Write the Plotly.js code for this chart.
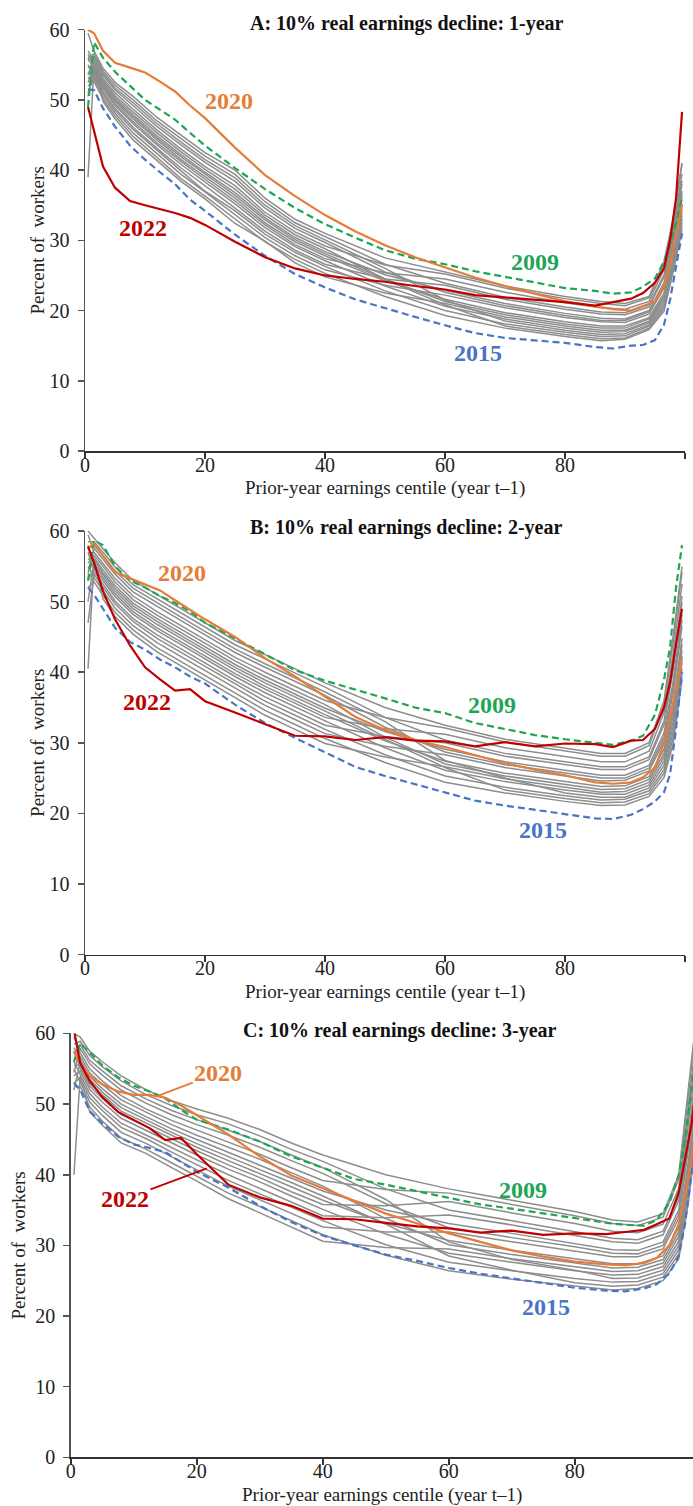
<!DOCTYPE html>
<html>
<head>
<meta charset="utf-8">
<script src="https://cdn.plot.ly/plotly-3.0.1.min.js"></script>
<style>
html,body{margin:0;padding:0;background:#fff;}
#chart{width:693px;height:1506px;}
</style>
</head>
<body>
<div id="chart"></div>
<script>
// ---------- DATA ----------
// centile positions for highlighted years and for the other (grey) years
const XH = [0.5,1.5,3,5,7.5,10,12.5,15,17.5,20,25,30,35,40,45,50,55,60,65,70,75,80,85,88,91,93,95,96.5,97.5,98.5,99.5];
const XG = [0.5,1.5,3,5,8,12,16,20,25,30,35,40,50,60,70,80,86,90,94,96.5,98,99.5];
const xTickVals = [0,20,40,60,80,100];
const xTickText = ['0','20','40','60','80',''];
const yTickVals = [0,10,20,30,40,50,60];

const panelTitles = ['A: 10% real earnings decline: 1-year','B: 10% real earnings decline: 2-year','C: 10% real earnings decline: 3-year'];
const xTitle = 'Prior-year earnings centile (year t–1)';
const yTitle = 'Percent of  workers';

// Panel A (1-year)
const A_2009 = [49,58.2,56,54,52,50,48.6,47.2,45.3,43.5,40.3,37.3,34.6,32.3,30.4,28.6,27.4,26.6,25.6,24.8,24.1,23.2,22.8,22.4,22.6,23.4,24.6,27,29.5,32.5,36];
const A_2015 = [51.5,51.4,48.8,46.2,43.5,41.5,39.7,38,35.8,34.2,30.8,27.8,25.2,23.3,21.6,20.3,19.1,17.9,16.8,16.1,15.8,15.4,14.8,14.6,15,15.1,15.8,18,21.5,26,31];
const A_2020 = [60,59.5,57,55.3,54.6,53.9,52.6,51.2,49.2,47.4,43.2,39.3,36.3,33.6,31.3,29.3,27.6,26.1,24.7,23.5,22.4,21.3,20.6,20.2,20,20.7,21.3,23.5,26.5,30.5,35.2];
const A_2022 = [49,45.5,40.5,37.5,35.6,35,34.5,33.9,33.2,32.2,29.8,27.6,26,25,24.5,24.1,23.5,23,22.2,21.9,21.5,21.2,20.7,21.2,21.7,22.5,24,26,30,36,48.3];
const A_other = [
  [39,55,49.8,47.3,44.3,41.3,38.4,35.9,32.4,29.9,26.8,24.8,22.5,21,19.1,17.8,17.2,17.2,18.5,21.8,27.4,34],
  [52,52.6,50.1,47.7,44.8,41.8,38.8,36.3,33,29.8,27.3,25.3,22,19.3,17.5,16.3,15.7,15.9,17.3,19.9,25.4,31.5],
  [54,53,50.5,48.1,45.3,42.3,39.4,36.9,33.6,30.4,27.8,25.8,23.6,22.2,20.4,19,18.4,18.3,19.5,23.2,29,36],
  [51,53.3,50.9,48.5,45.8,42.8,39.9,37,34.2,30.9,28.3,26.3,22.8,20,18.1,16.9,16.3,16.4,17.8,20.6,26.2,32.5],
  [55,53.6,51.1,48.8,46.1,43.1,40.3,37.8,34.6,31.3,28.6,26.6,24.5,23.6,21.6,20.2,19.5,19.4,20.5,24.8,30.6,38],
  [53,54,51.5,49.2,46.6,43.6,40.8,38.3,35.2,31.8,29.1,27.1,23.5,20.6,18.8,17.5,16.9,17,18.3,21.4,27,33.5],
  [56,54.3,51.8,49.5,46.9,43.9,41.2,38.7,35.6,32.2,29.4,27.4,25.4,24.5,22.6,21.1,20.4,20.2,21.3,25.9,31.8,39.5],
  [52.5,54.5,52,49.8,47.3,44.3,41.5,39,36,32.5,29.8,27.8,24.2,21.6,19.7,18.4,17.8,17.8,19,22.5,28.2,35],
  [50.5,54.8,52.3,50,47.6,44.6,41.9,39.4,36.4,32.9,30.1,28.1,24.5,20.8,17.8,16.6,16,16.1,17.5,20.3,25.8,32],
  [56.5,55,52.5,50.3,47.9,44.9,42.2,39.7,36.8,33.2,30.4,28.4,25.1,22.9,21,19.6,18.9,18.8,20,24,29.8,37],
  [54.5,55.3,52.8,50.6,48.3,45.3,42.6,40.1,37.3,33.6,30.8,28.8,24.5,21.3,19.4,18.1,17.5,17.5,18.8,22.1,27.8,34.5],
  [57,55.6,53.1,51,48.7,45.7,43,40.5,37.8,34,31.2,29.2,26.5,25.2,23.2,21.7,21,20.7,21.8,26.6,32.6,41],
  [53.5,56,53.5,51.4,49.2,46.2,43.6,41.1,38.4,34.6,31.7,29.7,25.5,22.6,20.7,19.3,18.6,18.6,19.8,23.6,29.4,36.5],
  [55.5,56.3,53.8,51.7,49.6,46.6,44,41.5,38.9,35,32.1,30.1,26,21.5,18.5,17.2,16.6,16.7,18,21,26.6,33],
  [56,56.6,54.1,52.1,50,47,44.5,42,39.4,35.5,32.5,30.5,26.6,23.9,21.9,20.5,19.8,19.7,20.8,25.1,31,38.5],
  [59.5,57,54.5,52.5,50.5,47.5,45,42.5,40,36,33,31,27.5,25.5,23.5,22,21.3,21,22,27,33,41]
];

// Panel B (2-year)
const B_2009 = [53,58.7,58,55,53,52,50.8,49.8,48.6,47,44.8,42.5,40.3,38.8,37.6,36.3,35,34.2,32.8,32,31.1,30.5,30,29.7,30.3,31,34,39,43.5,52,58];
const B_2015 = [52,51,49,46.3,44.3,43.2,41.8,40.7,39.4,38.4,35.4,32.8,30.7,28.6,26.6,25.3,24.1,22.9,21.8,21.1,20.5,19.8,19.3,19.2,19.8,20.6,21.7,23,25.5,32,40];
const B_2020 = [57.5,58.3,56.5,54.2,53.3,52.4,51.6,50.2,48.8,47.5,45,42,39.4,36.5,33.7,31.8,30.4,29.4,28.2,27.1,26.2,25.4,24.4,24.2,24.4,25.1,26.5,30,33.5,38,42];
const B_2022 = [57.8,55.5,51.5,47.5,43.8,40.7,39,37.4,37.6,35.9,34.3,32.6,31,30.9,30.4,30.8,30.3,30.2,29.5,30.1,29.5,29.9,29.8,29.4,30.3,30.4,32,35,38.5,44,49];
const B_other = [
  [40.5,56,50.4,47.9,45.4,42.9,40.9,38.9,36.4,33.9,31.9,29.9,28,26.6,24.9,23.7,23,23.1,24.4,28,33.8,43.1],
  [52,52.8,50.9,48.5,46,43.5,41.5,39.5,37,34.6,32.6,30.6,27.2,24.4,22.9,21.7,21.1,21.2,22.4,25.1,29.8,38.9],
  [55,53.4,51.5,49.1,46.6,44.2,42.2,40.2,37.7,35.3,33.3,31.3,29.5,28.3,26.5,25.3,24.6,24.7,26,30.3,37,46.5],
  [47,53.9,52,49.7,47.2,44.8,42.8,40.8,38.3,35.9,33.9,31.9,28.3,25.3,23.7,22.5,21.9,22,23.2,26.2,31.4,40.5],
  [57,54.3,52.5,50.1,47.6,45.3,43.3,41.3,38.8,36.5,34.5,32.5,30.9,30,28.1,26.9,26.2,26.2,27.6,32.6,40.2,49.9],
  [53,54.8,53,50.7,48.2,45.9,43.9,41.9,39.4,37.1,35.1,33.1,29.3,26.1,24.5,23.3,22.7,22.7,24,27.4,33,42.3],
  [58,55.2,53.4,51.1,48.6,46.3,44.3,42.3,39.8,37.6,35.6,33.6,32,31.2,29.3,28.1,27.3,27.3,28.8,34.3,42.6,52.5],
  [54.5,55.5,53.8,51.5,49,46.8,44.8,42.8,40.3,38,36,34,30.3,27.4,25.7,24.5,23.8,23.9,25.2,29.1,35.4,44.8],
  [50,55.9,54.1,51.9,49.4,47.2,45.2,43.2,40.7,38.5,36.5,34.5,30.5,26.5,23.3,22.1,21.5,21.6,22.8,25.7,30.6,39.7],
  [56,56.2,54.5,52.3,49.8,47.6,45.6,43.6,41.1,38.9,36.9,34.9,31.6,29.1,27.3,26.1,25.4,25.4,26.8,31.4,38.6,48.2],
  [55.5,56.6,55,52.8,50.3,48.1,46.1,44.1,41.6,39.4,37.4,35.4,30.8,27,25.3,24.1,23.4,23.5,24.8,28.5,34.6,44],
  [59.5,57,55.4,53.3,50.8,48.6,46.6,44.6,42.1,40,38,36,33.6,32.1,30.1,28.9,28.1,28.1,29.6,35.4,44.2,54.2],
  [54,57.6,56,53.9,51.4,49.3,47.3,45.3,42.8,40.7,38.7,36.7,32.2,28.7,26.9,25.7,25,25,26.4,30.8,37.8,47.4],
  [57.5,58,56.5,54.4,51.9,49.8,47.8,45.8,43.3,41.2,39.2,37.2,33,27.5,25,22.9,22.3,22.3,23.6,26.8,32.2,41.4],
  [58.5,58.5,57,54.9,52.4,50.4,48.4,46.4,43.9,41.9,39.9,37.9,33.6,30.4,28.5,27.3,26.6,26.6,28,33.1,41,50.8],
  [60,59,57.5,55.5,53,51,49,47,44.5,42.5,40.5,38.5,35,32.5,30.5,29.3,28.5,28.5,30,36,45,55]
];

// Panel C (3-year)
const C_2009 = [56,58.6,57.3,55.5,53.8,52.6,51.8,50.8,49.2,47.8,46.4,44.7,42.6,41,39.4,38.6,37.7,36.7,35.8,35.2,34.5,33.8,33.2,32.9,32.8,33.6,36,40,45,52,60];
const C_2015 = [53,52,49,47.3,45.4,44.3,43.8,43.2,41.8,40.4,38.2,35.6,33.3,31.4,30,28.7,27.8,26.8,26,25.3,24.6,24,23.6,23.5,23.9,24.5,26,28.5,33,40,48];
const C_2020 = [57.5,55.8,54,52.8,51.8,51.3,51.3,50.9,49.8,48.4,45.7,42.6,39.9,38.1,36.3,34.5,33.1,31.7,30.5,29.3,28.4,27.7,27.3,27.2,27.5,28.2,30,33,37,42,48];
const C_2022 = [60.5,55.8,53.3,51,48.9,47.8,46.6,44.9,45.2,42.9,38.6,36.8,35.6,33.8,33.7,33.2,32.7,32.4,31.8,32.1,31.5,31.7,31.6,31.9,32.2,33,33.8,37.5,42,47,54];
const C_other = [
  [40,54,48.9,47,44.5,43,41,39.1,36.6,34.6,32.6,30.6,29.7,29.5,28.1,27,26.3,26.4,27.5,31.3,40.1,51.4],
  [52.5,52.5,49.6,47.6,45.2,43.6,41.7,39.8,37.4,35.5,33.5,31.5,28.6,26.4,25.2,24.2,23.7,23.9,25,28.1,35.9,46.9],
  [55,53.1,50.3,48.4,46,44.4,42.5,40.7,38.4,36.5,34.5,32.6,31.9,31.9,30.5,29.2,28.4,28.4,29.5,33.8,43.5,55],
  [53,53.7,50.9,49.1,46.7,45.1,43.2,41.4,39.2,37.3,35.4,33.5,30.1,27.6,26.4,25.3,24.8,24.9,26,29.4,37.6,48.7],
  [56,54.1,51.5,49.6,47.3,45.6,43.8,42.1,40,38.1,36.1,34.2,33.9,34.3,32.9,31.4,30.5,30.3,31.5,36.3,46.9,58.6],
  [54,54.7,52.1,50.3,48,46.3,44.5,42.8,40.8,39,37,35.1,31.6,28.9,27.6,26.4,25.8,25.9,27,30.6,39.3,50.5],
  [57.5,55.1,52.6,50.8,48.5,46.8,45,43.4,41.4,39.6,37.6,35.8,35.6,36.2,34.6,33.1,32,31.8,33,38.1,49.5,61.3],
  [55.5,55.5,53,51.3,49,47.3,45.5,43.9,42,40.2,38.3,36.4,33.1,30.7,29.3,28.1,27.4,27.4,28.5,32.5,41.8,53.2],
  [52,55.9,53.5,51.7,49.5,47.7,46,44.4,42.6,40.8,38.9,37,33,28.5,26.5,24.7,24.2,24.4,25.5,28.8,36.7,47.8],
  [58,56.3,53.9,52.2,50,48.2,46.5,45,43.2,41.4,39.5,37.7,35,33.1,31.7,30.3,29.4,29.3,30.5,35,45.2,56.8],
  [56.5,56.8,54.4,52.8,50.6,48.8,47.1,45.6,43.9,42.2,40.3,38.4,33.8,30.1,28.7,27.5,26.8,26.9,28,31.9,41,52.3],
  [59.5,57.3,55,53.3,51.2,49.3,47.7,46.3,44.6,42.9,41,39.2,37.9,37.4,35.8,34.2,33.1,32.8,34,39.4,51.2,63.1],
  [54.5,57.9,55.7,54.1,52,50.1,48.5,47.1,45.6,43.9,42,40.2,35.9,32.5,31.1,29.8,28.9,28.8,30,34.4,44.4,55.9],
  [57,58.4,56.2,54.7,52.6,50.7,49.1,47.8,46.3,44.7,42.8,41,36.5,30.5,28,26.5,25.3,25.4,26.5,30,38.4,49.6],
  [58.5,58.9,56.9,55.3,53.3,51.3,49.8,48.5,47.2,45.5,43.6,41.9,38,35,33.5,32,31,30.8,32,36.9,47.8,59.5],
  [60,59.5,57.5,56,54,52,50.5,49.3,48,46.4,44.5,42.8,40,38,36.4,34.8,33.6,33.3,34.5,40,52,64]
];

// ---------- STYLE ----------
const FONT = 'Liberation Serif, Times New Roman, serif';
const GRAY = '#8d8d8d';
const COL = {'2009':'#1ea655','2015':'#4a74c4','2020':'#e57c37','2022':'#c00000'};
const DASH = '7px,4px';

const traces = [];
function addPanel(xa, ya, other, s2009, s2015, s2020, s2022) {
  other.forEach(function(v){
    traces.push({x: XG, y: v, xaxis: xa, yaxis: ya, type: 'scatter', mode: 'lines',
      line: {color: GRAY, width: 1.5}, hoverinfo: 'skip'});
  });
  traces.push({x: XH, y: s2015, xaxis: xa, yaxis: ya, type: 'scatter', mode: 'lines', name: '2015',
    line: {color: COL['2015'], width: 2.2, dash: DASH}});
  traces.push({x: XH, y: s2009, xaxis: xa, yaxis: ya, type: 'scatter', mode: 'lines', name: '2009',
    line: {color: COL['2009'], width: 2.2, dash: DASH}});
  traces.push({x: XH, y: s2020, xaxis: xa, yaxis: ya, type: 'scatter', mode: 'lines', name: '2020',
    line: {color: COL['2020'], width: 2.2}});
  traces.push({x: XH, y: s2022, xaxis: xa, yaxis: ya, type: 'scatter', mode: 'lines', name: '2022',
    line: {color: COL['2022'], width: 2.2}});
}
addPanel('x', 'y', A_other, A_2009, A_2015, A_2020, A_2022);
addPanel('x2', 'y2', B_other, B_2009, B_2015, B_2020, B_2022);
addPanel('x3', 'y3', C_other, C_2009, C_2015, C_2020, C_2022);

function xAxis(domain, range, anchor) {
  return {domain: domain, range: range, anchor: anchor, tickvals: xTickVals, ticktext: xTickText,
    ticks: 'outside', ticklen: 6, tickwidth: 1.5, tickcolor: '#333', showline: true, linecolor: '#333',
    linewidth: 1.5, showgrid: false, zeroline: false, fixedrange: true, ticklabelstandoff: -11,
    tickfont: {family: FONT, size: 20, color: '#222'}};
}
function yAxis(domain, anchor, standoff) {
  return {domain: domain, range: [0, 60], anchor: anchor, tickvals: yTickVals,
    ticks: 'outside', ticklen: 6, tickwidth: 1.5, tickcolor: '#555', showline: true, linecolor: '#555',
    linewidth: 1.5, showgrid: false, zeroline: false, fixedrange: true, ticklabelstandoff: 4,
    tickfont: {family: FONT, size: 20, color: '#222'},
    title: {text: yTitle, font: {family: FONT, size: 19, color: '#222'}, standoff: standoff}};
}

function lab(text, xref, yref, x, y, color) {
  return {text: '<b>' + text + '</b>', xref: xref, yref: yref, x: x, y: y, showarrow: false,
    font: {family: FONT, size: 24, color: color}, xanchor: 'center', yanchor: 'middle'};
}
function titleAnn(text, x, y) {
  return {text: '<b>' + text + '</b>', xref: 'paper', yref: 'paper', x: x, y: y, showarrow: false,
    font: {family: FONT, size: 20, color: '#111'}, xanchor: 'center', yanchor: 'middle'};
}
function xTitleAnn(x, y) {
  return {text: xTitle, xref: 'paper', yref: 'paper', x: x, y: y, showarrow: false,
    font: {family: FONT, size: 19, color: '#222'}, xanchor: 'center', yanchor: 'middle'};
}

const annotations = [
  titleAnn(panelTitles[0], 0.587, 0.9847),
  titleAnn(panelTitles[1], 0.586, 0.650),
  titleAnn(panelTitles[2], 0.577, 0.316),
  xTitleAnn(0.5556, 0.6760),
  xTitleAnn(0.5556, 0.3416),
  xTitleAnn(0.5512, 0.0073),
  lab('2020', 'x', 'y', 24, 49.9, COL['2020']),
  lab('2022', 'x', 'y', 9.7, 31.7, COL['2022']),
  lab('2009', 'x', 'y', 75, 26.9, COL['2009']),
  lab('2015', 'x', 'y', 65.5, 13.9, COL['2015']),
  lab('2020', 'x2', 'y2', 16.1, 54, COL['2020']),
  lab('2022', 'x2', 'y2', 10.3, 35.8, COL['2022']),
  lab('2009', 'x2', 'y2', 67.8, 35.3, COL['2009']),
  lab('2015', 'x2', 'y2', 76.4, 17.6, COL['2015']),
  {text: '<b>2020</b>', xref: 'x3', yref: 'y3', x: 13.6, y: 51.1, axref: 'x3', ayref: 'y3', ax: 23.4, ay: 54.4,
    showarrow: true, arrowhead: 0, arrowwidth: 1.8, arrowcolor: COL['2020'], font: {family: FONT, size: 24, color: COL['2020']}},
  {text: '<b>2022</b>', xref: 'x3', yref: 'y3', x: 21.6, y: 40.9, axref: 'x3', ayref: 'y3', ax: 8.6, ay: 36.6,
    showarrow: true, arrowhead: 0, arrowwidth: 1.8, arrowcolor: COL['2022'], font: {family: FONT, size: 24, color: COL['2022']}},
  lab('2009', 'x3', 'y3', 71.8, 37.9, COL['2009']),
  lab('2015', 'x3', 'y3', 75.5, 21.3, COL['2015'])
];

const layout = {
  width: 693, height: 1506, margin: {l: 0, r: 0, t: 0, b: 0},
  paper_bgcolor: '#fff', plot_bgcolor: '#fff', showlegend: false,
  font: {family: FONT, color: '#222'},
  xaxis: xAxis([0.1227, 0.9885], [0, 100], 'y'),
  yaxis: yAxis([0.70053, 0.98028], 'x', 0),
  xaxis2: xAxis([0.1227, 0.9885], [0, 100], 'y2'),
  yaxis2: yAxis([0.36620, 0.64734], 'x2', 0),
  xaxis3: xAxis([0.10216, 1.0], [0, 98.76], 'y3'),
  yaxis3: yAxis([0.03234, 0.31375], 'x3', 4),
  annotations: annotations
};

Plotly.newPlot('chart', traces, layout, {displayModeBar: false, staticPlot: true});
</script>
</body>
</html>
